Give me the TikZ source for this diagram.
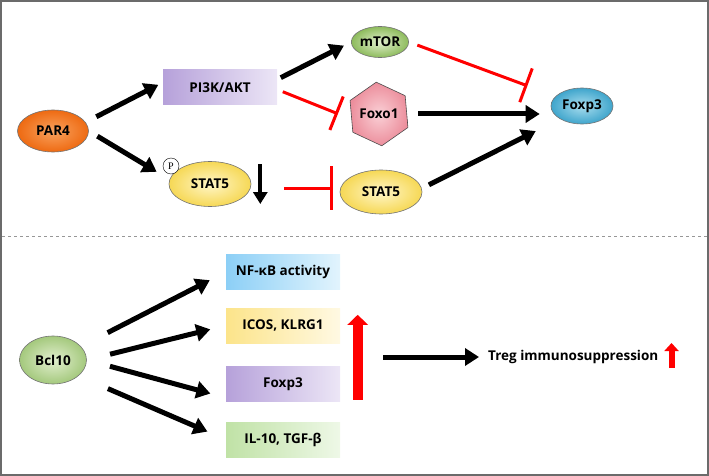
\documentclass[tikz,border=0pt]{standalone}
\usepackage{fontspec}
\setmainfont{Open Sans}
\newfontfamily\pfont{Liberation Serif}
\usetikzlibrary{arrows.meta,shapes.geometric}

\definecolor{frame}{HTML}{6B6B6B}
\definecolor{orangeA}{HTML}{F9A25E}\definecolor{orangeB}{HTML}{EE6A12}
\definecolor{greenA}{HTML}{E2EFCF}\definecolor{greenB}{HTML}{8DBB5C}
\definecolor{pinkA}{HTML}{FAD0D6}\definecolor{pinkB}{HTML}{EC8E9C}
\definecolor{yellowA}{HTML}{FFF6C8}\definecolor{yellowB}{HTML}{F6D855}
\definecolor{blueA}{HTML}{A9DDEE}\definecolor{blueB}{HTML}{3FA5CC}
\definecolor{lilacA}{HTML}{B6A1DA}\definecolor{lilacB}{HTML}{ECE6F6}
\definecolor{skyA}{HTML}{8CCFF6}\definecolor{skyB}{HTML}{E2F4FD}
\definecolor{sandA}{HTML}{FCE48A}\definecolor{sandB}{HTML}{FFF9E3}
\definecolor{leafA}{HTML}{C0E2A6}\definecolor{leafB}{HTML}{EEF8E7}

\begin{document}
\begin{tikzpicture}[x=1pt,y=-1pt,
 every node/.style={font=\fontsize{13.5}{15}\selectfont\bfseries},
 blob/.style={ellipse,draw=black!55,line width=.6pt,inner sep=0pt},
 box/.style={rectangle,minimum width=114,minimum height=35,inner sep=0pt},
 act/.style={line width=5pt,-{Triangle[length=14pt,width=17pt]}},
 inh/.style={red,line width=3pt,-{Bar[width=36pt]}},
 pcirc/.style={circle,draw,fill=white,minimum size=16,inner sep=0pt,font=\pfont\fontsize{10}{10}\selectfont}]

 \useasboundingbox (0,0) rectangle (709,476);
 \draw[frame,line width=2pt] (1,1) rectangle (708,475);
 \draw[frame!70,dashed,line width=1pt] (2,236) -- (707,236);

 % upper panel
 \node[blob,inner color=orangeA,outer color=orangeB,minimum width=71,minimum height=42] (par4) at (53,131) {PAR4};
 \node[box,left color=lilacA,right color=lilacB] (pi3k) at (220,87.5) {PI3K/AKT};
 \node[blob,inner color=greenA,outer color=greenB,minimum width=52,minimum height=31] (mtor) at (380,42) {mTOR};
 \node[regular polygon,regular polygon sides=6,shape border rotate=35,draw=black!70,line width=.6pt,
  inner color=pinkA,outer color=pinkB,minimum size=50,inner sep=0pt] (foxo1) at (379,114) {Foxo1};
 \node[blob,inner color=blueA,outer color=blueB,minimum width=62,minimum height=36] (foxp3) at (582,106) {Foxp3};
 \node[blob,inner color=yellowA,outer color=yellowB,minimum width=82,minimum height=45] (stat5a) at (210,184) {STAT5};
 \node[pcirc] (p) at (171,166) {P};
 \node[blob,inner color=yellowA,outer color=yellowB,minimum width=82,minimum height=44] (stat5b) at (381,192) {STAT5};

 \draw[act,shorten <=12pt,shorten >=5pt] (par4.15) -- ([yshift=5]pi3k.west);
 \draw[act,shorten <=10pt,shorten >=14pt] (par4.east) -- ([yshift=5]stat5a.west);
 \draw[act,shorten <=4pt,shorten >=8pt] ([yshift=8]pi3k.east) -- (mtor.west);
 \draw[inh,shorten <=6pt,shorten >=14pt] ([yshift=-2]pi3k.east) -- ([yshift=-5]foxo1.west);
 \draw[inh,shorten <=9pt,shorten >=30pt] (mtor.east) -- (foxp3);
 \draw[act,shorten <=11pt,shorten >=11pt] (foxo1.east) -- (foxo1.east -| foxp3.west);
 \draw[act,shorten <=8pt,shorten >=27pt] (stat5b.5) -- (foxp3.south west);
 \draw[inh,-{Bar[width=44pt]},shorten <=33pt,shorten >=7pt] ([yshift=-4]stat5a.east) -- ([yshift=4]stat5b.west);
 \draw[line width=4pt,-{Triangle[length=12pt,width=14pt]}] ([xshift=9,yshift=20]stat5a.east) -- ++(0,40);

 % lower panel
 \node[blob,inner color=greenA,outer color=greenB!80,minimum width=67,minimum height=48] (bcl) at (53,360) {Bcl10};
 \node[box,left color=skyA,right color=skyB] (nfkb) at (283,272) {NF-κB activity};
 \node[box,left color=sandA,right color=sandB] (icos) at (283,325.5) {ICOS, KLRG1};
 \node[box,left color=lilacA,right color=lilacB] (foxb) at (283,384) {Foxp3};
 \node[box,left color=leafA,right color=leafB] (il10) at (283,439.5) {IL-10, TGF-β};
 \node[anchor=west,inner sep=0pt] (treg) at (488,357) {Treg immunosuppression};

 \draw[act,shorten <=30pt,shorten >=18pt] (bcl.26) -- (nfkb.west);
 \draw[act,shorten <=24pt,shorten >=16pt] (bcl.east) -- (icos.west);
 \draw[act,shorten <=24pt,shorten >=16pt] (bcl.east) -- ([yshift=4]foxb.south west);
 \draw[act,shorten <=32pt,shorten >=20pt] (bcl.-32) -- (il10.west);

 \draw[red,line width=10pt,-{Triangle[length=10pt,width=20pt]}] ([xshift=17.5,yshift=2]foxb.south east) -- ([xshift=17.5,yshift=-7]icos.north east);
 \draw[act] ([xshift=-105]treg.west) -- ([xshift=-9]treg.west);
 \draw[red,line width=6pt,-{Triangle[length=8pt,width=14pt]}] ([xshift=13,yshift=-11]treg.east) -- ++(0,-25);
\end{tikzpicture}
\end{document}
